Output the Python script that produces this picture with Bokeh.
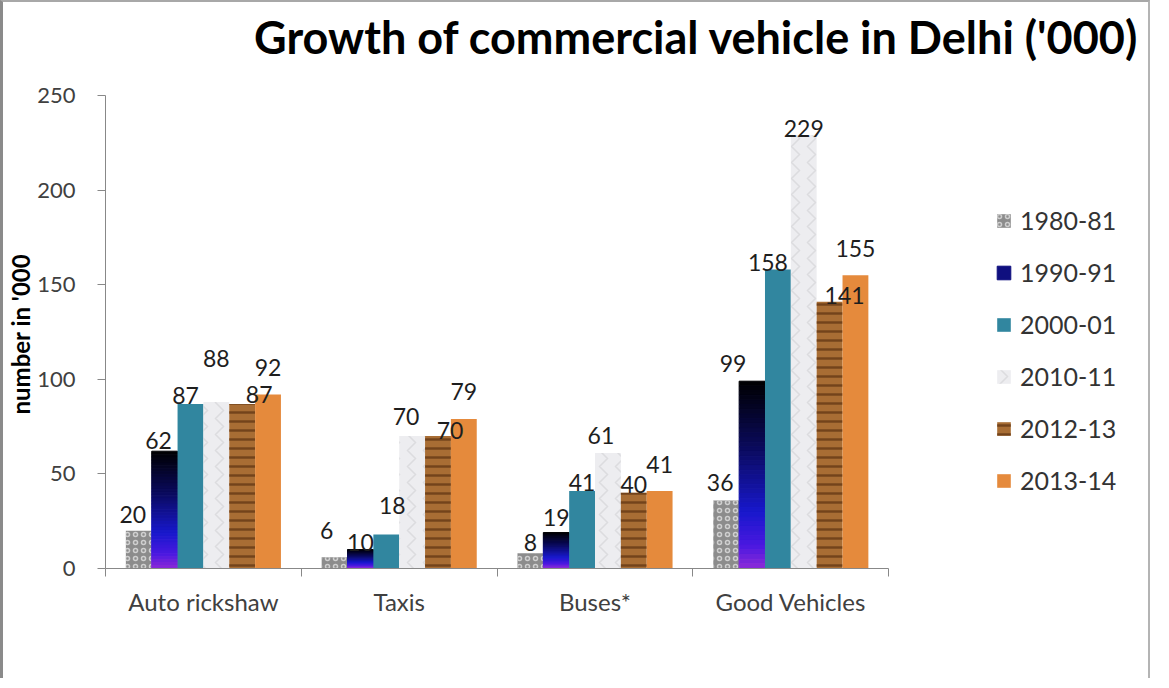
from bokeh.plotting import figure
from bokeh.models import (ColumnDataSource, FixedTicker, Legend, LegendItem,
                          LabelSet, Label, Range1d, Title)
from bokeh.core.properties import value
from bokeh.embed import file_html
from bokeh.resources import INLINE

# ---------------- data ----------------
categories = ["Auto rickshaw", "Taxis", "Buses*", "Good Vehicles"]
years = ["1980-81", "1990-91", "2000-01", "2010-11", "2012-13", "2013-14"]
v1980 = [20, 6, 8, 36]
v1990 = [62, 10, 19, 99]
v2000 = [87, 18, 41, 158]
v2010 = [88, 70, 61, 229]
v2012 = [87, 70, 40, 141]
v2013 = [92, 79, 41, 155]
y_ticks = [0, 50, 100, 150, 200, 250]
series = [v1980, v1990, v2000, v2010, v2012, v2013]
title_text = "Growth of commercial vehicle in Delhi ('000)"
y_title = "number in '000"

# label nudges (pixels) per series, per category  -- styling only
label_dy = [[16, 27, 11, 18], [11, 7, 15, 18], [8, 29, 8, 7],
            [44, 20, 18, 7], [9, 6, 8, 6], [27, 28, 26, 27]]
label_dx = [[-6, -8, 0, -6], [-6, 0, 0, -19], [-5, 6, 0, -10],
            [0, -6, -7, 0], [17, 12, 0, 15], [0, 0, 0, 0]]

FONT = "Lato"
BAR_W = 0.132
ncat = len(categories)

# ---------------- layout (pixels) ----------------
W, H = 1150, 678
MB_L, MB_R, MB_T, MB_B = 97, 8, 5, 112
PX_PER_CAT = 196.75          # width of one category slot
PX_PER_UNIT = 473 / 250.0    # vertical pixels per unit
frame_w = W - MB_L - MB_R
frame_h = H - MB_T - MB_B
x_end = frame_w / PX_PER_CAT
y_end = frame_h / PX_PER_UNIT

p = figure(width=W, height=H, output_backend="svg", toolbar_location=None,
           x_range=Range1d(0, x_end), y_range=Range1d(0, y_end),
           min_border_left=MB_L, min_border_right=MB_R, min_border_top=MB_T,
           min_border_bottom=MB_B, outline_line_color=None,
           background_fill_color="white", border_fill_color="white",
           styles={"border-left": "3px solid #8a8a8a",
                   "border-top": "2px solid #a8a8a8",
                   "border-right": "2px solid #b4b4b4"})
p.grid.visible = False

# title placed in data space above the plotted area
p.add_layout(Label(x=(702 - 108) / PX_PER_CAT, y=(576 - 44) / PX_PER_UNIT,
                   text=title_text, text_align="center",
                   text_baseline="alphabetic", text_font=FONT,
                   text_font_size="45px", text_font_style="bold",
                   text_color="#000000"))

def xpos(j):
    return [i + 0.5 + (j - 2.5) * BAR_W for i in range(ncat)]

styles = [
    dict(fill_color="#8c8c8c", hatch_pattern="ring", hatch_color="#d6d6d6",
         hatch_scale=8, hatch_weight=1.5, hatch_alpha=0.9),
    None,
    dict(fill_color="#31869f"),
    dict(fill_color="#ededf0", hatch_pattern="vertical_wave", hatch_color="#c2c2c6",
         hatch_scale=16, hatch_weight=1.5, hatch_alpha=0.4),
    dict(fill_color="#a86d34", hatch_pattern="horizontal_line", hatch_color="#6a3c16",
         hatch_scale=9, hatch_weight=2.5, hatch_alpha=0.85),
    dict(fill_color="#e58a3c"),
]

def interp(stops, t):
    for k in range(len(stops) - 1):
        t0, c0 = stops[k]
        t1, c1 = stops[k + 1]
        if t0 <= t <= t1:
            f = (t - t0) / (t1 - t0) if t1 > t0 else 0
            a = [int(c0[i:i + 2], 16) for i in (1, 3, 5)]
            b = [int(c1[i:i + 2], 16) for i in (1, 3, 5)]
            return "#%02x%02x%02x" % tuple(int(round(a[i] + (b[i] - a[i]) * f)) for i in range(3))
    return stops[-1][1]

grad_stops = [(0.0, "#000000"), (0.35, "#0a0a5a"), (0.7, "#1818cc"),
              (0.88, "#4a18e0"), (1.0, "#8c2ad8")]

NSEG = 40
renderers = []
for j, (yr, vals) in enumerate(zip(years, series)):
    xs = xpos(j)
    if styles[j] is None:
        gx, gb, gt, gc = [], [], [], []
        for x, v in zip(xs, vals):
            for k in range(NSEG):
                top = v * (1 - k / NSEG)
                bot = v * (1 - (k + 1) / NSEG)
                gx.append(x); gt.append(top); gb.append(bot)
                gc.append(interp(grad_stops, (k + 0.5) / NSEG))
        src = ColumnDataSource(dict(x=gx, top=gt, bottom=gb, color=gc))
        r = p.vbar(x="x", top="top", bottom="bottom", width=BAR_W, source=src,
                   fill_color="color", line_color="color", line_width=1)
        renderers.append((r, int(NSEG * 0.45)))
    else:
        src = ColumnDataSource(dict(x=xs, top=vals))
        r = p.vbar(x="x", top="top", bottom=0, width=BAR_W, source=src,
                   line_color=None, **styles[j])
        renderers.append((r, 0))

# value labels
lx, ly, lt, ldx, ldy = [], [], [], [], []
for j, vals in enumerate(series):
    for i, v in enumerate(vals):
        lx.append(xpos(j)[i]); ly.append(v); lt.append(str(v))
        ldx.append(label_dx[j][i]); ldy.append(label_dy[j][i])
lsrc = ColumnDataSource(dict(x=lx, y=ly, t=lt, dx=ldx, dy=ldy))
p.add_layout(LabelSet(x="x", y="y", text="t", x_offset="dx", y_offset="dy",
                      source=lsrc, text_align="center", text_baseline="middle",
                      text_font=value(FONT), text_font_size="23px",
                      text_color="#1e1e1e"))

# axes
ya = p.yaxis[0]
ya.bounds = (y_ticks[0], y_ticks[-1])
ya.ticker = FixedTicker(ticks=y_ticks)
ya.axis_line_color = "#888888"
ya.major_tick_line_color = "#888888"
ya.major_tick_out = 8
ya.major_tick_in = 0
ya.minor_tick_line_color = None
ya.major_label_text_font = FONT
ya.major_label_text_font_size = "22px"
ya.major_label_text_color = "#404040"
ya.major_label_standoff = 22

# vertical axis title, starting from the bottom of the frame, lifted by offset
p.add_layout(Title(text=y_title, align="left", text_font=FONT,
                   text_font_size="24px", text_font_style="bold",
                   text_color="#000000", standoff=0, offset=154),
             "left")

xa = p.xaxis[0]
xa.bounds = (0, ncat)
centers = [i + 0.5 for i in range(ncat)]
xa.ticker = FixedTicker(ticks=centers, minor_ticks=list(range(ncat + 1)))
xa.major_label_overrides = {c: lab for c, lab in zip(centers, categories)}
xa.axis_line_color = "#888888"
xa.major_tick_line_color = None
xa.major_tick_out = 0
xa.major_tick_in = 0
xa.minor_tick_line_color = "#888888"
xa.minor_tick_out = 8
xa.minor_tick_in = 0
xa.major_label_text_font = FONT
xa.major_label_text_font_size = "24px"
xa.major_label_text_color = "#404040"
xa.major_label_standoff = 10

legend = Legend(items=[LegendItem(label=yr, renderers=[r], index=idx)
                       for yr, (r, idx) in zip(years, renderers)],
                location=(890, 73), margin=0, padding=10, spacing=22,
                glyph_width=17, glyph_height=17, label_height=24,
                label_standoff=8, label_text_font=FONT,
                label_text_font_size="25px", label_text_color="#333333",
                border_line_color=None, background_fill_alpha=0)
p.add_layout(legend, "center")

open("out.html", "w").write(file_html(p, INLINE))
